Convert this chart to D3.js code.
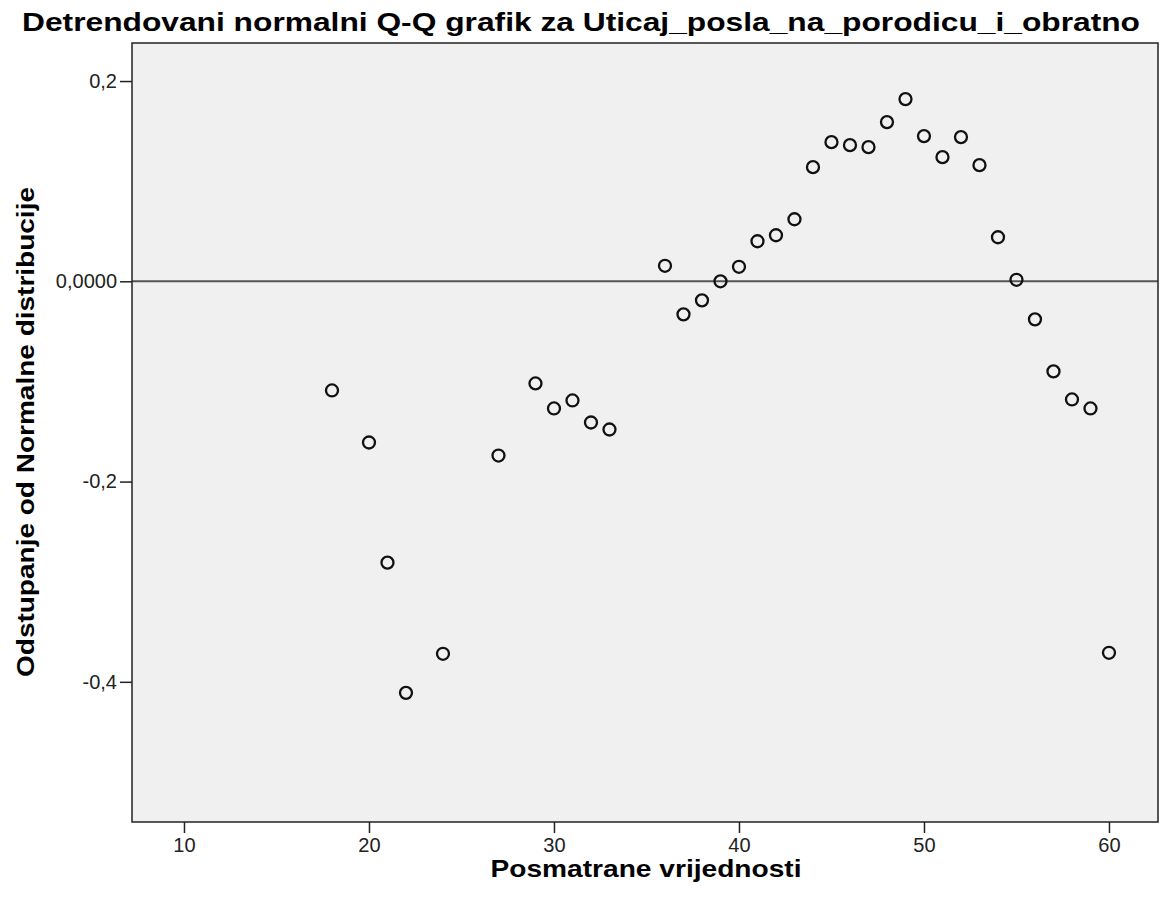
<!DOCTYPE html>
<html>
<head>
<meta charset="utf-8">
<script src="https://cdn.jsdelivr.net/npm/d3@7"></script>
<style>
  html, body { margin: 0; padding: 0; background: #ffffff; }
  text { font-family: "Liberation Sans", Arial, sans-serif; }
</style>
</head>
<body>
<svg id="chart" width="1160" height="911"></svg>
<script>
// ---- data ----
const observed = [18, 20, 21, 22, 24, 27, 29, 30, 31, 32, 33, 36, 37, 38, 39, 40, 41, 42, 43, 44, 45, 46, 47, 48, 49, 50, 51, 52, 53, 54, 55, 56, 57, 58, 59, 60];
const deviation = [-0.109, -0.161, -0.281, -0.411, -0.372, -0.174, -0.102, -0.127, -0.119, -0.141, -0.148,
  0.0155, -0.033, -0.019, 0.000, 0.0145, 0.040, 0.046, 0.062, 0.114, 0.139, 0.136, 0.134, 0.159, 0.182,
  0.145, 0.124, 0.144, 0.116, 0.044, 0.0015, -0.038, -0.090, -0.118, -0.127, -0.371];
const xTicks = [10, 20, 30, 40, 50, 60];
const yTicks = [0.2, 0.0, -0.2, -0.4];
const yTickLabels = ["0,2", "0,0000", "-0,2", "-0,4"];
const chartTitle = "Detrendovani normalni Q-Q grafik za Uticaj_posla_na_porodicu_i_obratno";
const xTitle = "Posmatrane vrijednosti";
const yTitle = "Odstupanje od Normalne distribucije";

// ---- layout ----
const pLeft = 132, pRight = 1158, pTop = 43, pBottom = 822;
const svg = d3.select("#chart");

const x = d3.scaleLinear().domain([7.19, 62.65]).range([pLeft, pRight]);
const y = d3.scaleLinear().domain([-0.540, 0.238]).range([pBottom, pTop]);

// plot background
svg.append("rect")
  .attr("x", pLeft).attr("y", pTop)
  .attr("width", pRight - pLeft).attr("height", pBottom - pTop)
  .attr("fill", "#f0f0f0");

// reference line at 0
svg.append("line")
  .attr("x1", pLeft).attr("x2", pRight)
  .attr("y1", y(0)).attr("y2", y(0))
  .attr("stroke", "#555").attr("stroke-width", 2);

// points
svg.append("g").selectAll("circle")
  .data(observed.map((v, i) => ({ x: v, y: deviation[i] })))
  .join("circle")
  .attr("cx", d => x(d.x))
  .attr("cy", d => y(d.y))
  .attr("r", 6)
  .attr("fill", "none")
  .attr("stroke", "#111")
  .attr("stroke-width", 2.3);

// frame
svg.append("rect")
  .attr("x", pLeft).attr("y", pTop)
  .attr("width", pRight - pLeft).attr("height", pBottom - pTop)
  .attr("fill", "none")
  .attr("stroke", "#222").attr("stroke-width", 1.5);

// x axis
const xAxis = d3.axisBottom(x).tickValues(xTicks).tickSize(11).tickPadding(5).tickFormat(d3.format("d"));
const gx = svg.append("g").attr("transform", `translate(0,${pBottom})`).call(xAxis);
gx.attr("font-size", null).attr("font-family", null);
gx.select(".domain").remove();
gx.selectAll(".tick line").attr("stroke", "#222").attr("stroke-width", 1.5);
gx.selectAll(".tick text").style("font-size", "20px").attr("fill", "#222");

// y axis
const yAxis = d3.axisLeft(y).tickValues(yTicks).tickSize(12).tickPadding(3)
  .tickFormat((d, i) => yTickLabels[i]);
const gy = svg.append("g").attr("transform", `translate(${pLeft},0)`).call(yAxis);
gy.attr("font-size", null).attr("font-family", null);
gy.select(".domain").remove();
gy.selectAll(".tick line").attr("stroke", "#222").attr("stroke-width", 1.5);
gy.selectAll(".tick text").style("font-size", "20px").attr("fill", "#222");

// titles
svg.append("text")
  .attr("x", 581).attr("y", 31)
  .attr("text-anchor", "middle")
  .style("font-size", "26px").attr("font-weight", "bold").attr("fill", "#000")
  .attr("textLength", 1118).attr("lengthAdjust", "spacingAndGlyphs")
  .text(chartTitle);

svg.append("text")
  .attr("x", 646).attr("y", 877)
  .attr("text-anchor", "middle")
  .style("font-size", "24px").attr("font-weight", "bold").attr("fill", "#000")
  .attr("textLength", 311).attr("lengthAdjust", "spacingAndGlyphs")
  .text(xTitle);

svg.append("text")
  .attr("transform", "translate(34,432) rotate(-90)")
  .attr("text-anchor", "middle")
  .style("font-size", "24px").attr("font-weight", "bold").attr("fill", "#000")
  .attr("textLength", 490).attr("lengthAdjust", "spacingAndGlyphs")
  .text(yTitle);
</script>
</body>
</html>
